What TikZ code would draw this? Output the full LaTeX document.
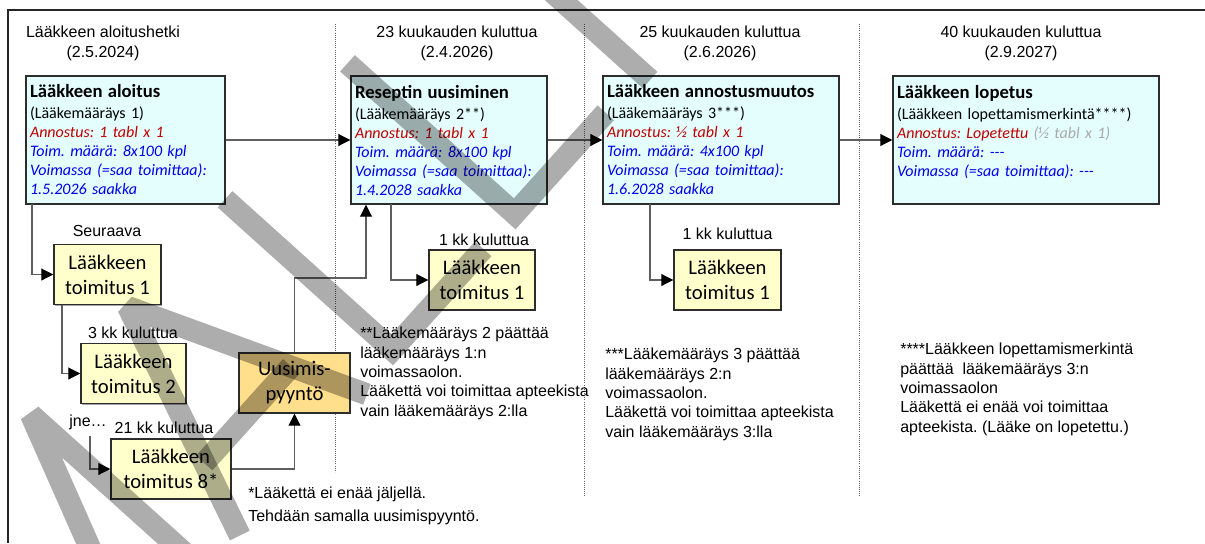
\documentclass[tikz,border=0pt]{standalone}
\usepackage{fontspec}
\setmainfont{Liberation Sans}
\newfontfamily\calfont{Carlito}
\usetikzlibrary{arrows.meta,shadows}
\definecolor{boxcyan}{RGB}{228,253,253}
\definecolor{boxyellow}{RGB}{255,255,204}
\definecolor{boxorange}{RGB}{255,222,140}
\definecolor{boxline}{RGB}{45,45,45}
\definecolor{dred}{RGB}{192,0,0}
\definecolor{dblue}{RGB}{0,0,235}
\definecolor{lgrey}{RGB}{170,170,170}
\definecolor{linegrey}{RGB}{95,95,95}
\begin{document}
\frenchspacing
\begin{tikzpicture}[x=0.75pt,y=-0.75pt,
  every node/.style={inner sep=0pt},
  shad/.style={drop shadow={shadow xshift=1.1pt,shadow yshift=-1.1pt,fill=black!35,opacity=1}},
  mainbox/.style={draw=boxline,line width=1.1pt,fill=boxcyan,shad,minimum height=96pt,
     inner xsep=3pt,align=left,font=\calfont\frenchspacing\fontsize{12}{14.25}\selectfont},
  delbox/.style={draw=boxline,line width=1.1pt,fill=boxyellow,shad,minimum height=45pt,
     align=center,font=\calfont\fontsize{15.5}{18.75}\selectfont},
  reqbox/.style={delbox,fill=boxorange},
  lbl/.style={font=\fontsize{12}{15}\selectfont,align=center},
  note/.style={font=\frenchspacing\fontsize{12}{14.5}\selectfont,align=left,anchor=north west},
  conn/.style={draw=linegrey,line width=0.8pt,-{Triangle[length=9pt,width=9pt,color=black]}},
  sep/.style={draw=black!60,line width=0.6pt,densely dotted},
  wmark/.style={draw=black,draw opacity=0.32,line width=16.5pt,line cap=butt},
]
\useasboundingbox (0,0) rectangle (1205,543);
\fill[white] (0,0) rectangle (1205,543);
% frame
\draw[black!85,line width=1.1pt] (8,543) -- (8,10) -- (1205,10);
% separators
\draw[sep] (335,24) -- (335,472);
\draw[sep] (584,24) -- (584,497);
\draw[sep] (859,24) -- (859,497);
% headers
\node[lbl,anchor=north] (h1) at (103,26) {Lääkkeen aloitushetki\\(2.5.2024)};
\node[lbl,anchor=north] (h2) at (457,26) {23 kuukauden kuluttua\\(2.4.2026)};
\node[lbl,anchor=north] (h3) at (720,26) {25 kuukauden kuluttua\\(2.6.2026)};
\node[lbl,anchor=north] (h4) at (1021,26) {40 kuukauden kuluttua\\(2.9.2027)};
% main boxes
\node[mainbox,minimum width=199*0.75pt,text width=143.25pt] (A) at (125.5,140)
 {{\bfseries\fontsize{14}{14.25}\selectfont Lääkkeen aloitus}\\[1.5pt]
  (Lääkemääräys 1)\\
  {\itshape\color{dred}Annostus: 1 tabl x 1}\\
  {\itshape\color{dblue}Toim. määrä: 8x100 kpl}\\
  {\itshape\color{dblue}Voimassa (=saa toimittaa):}\\
  {\itshape\color{dblue}1.5.2026 saakka}};
\node[mainbox,minimum width=196*0.75pt,text width=141pt] (B) at (449,140)
 {{\bfseries\fontsize{14}{14.25}\selectfont Reseptin uusiminen}\\[1.5pt]
  (Lääkemääräys 2**)\\
  {\itshape\color{dred}Annostus: 1 tabl x 1}\\
  {\itshape\color{dblue}Toim. määrä: 8x100 kpl}\\
  {\itshape\color{dblue}Voimassa (=saa toimittaa):}\\
  {\itshape\color{dblue}1.4.2028 saakka}};
\node[mainbox,minimum width=236*0.75pt,text width=171pt] (C) at (721,140)
 {{\bfseries\fontsize{14}{14.25}\selectfont Lääkkeen annostusmuutos}\\[1.5pt]
  (Lääkemääräys 3***)\\
  {\itshape\color{dred}Annostus: ½ tabl x 1}\\
  {\itshape\color{dblue}Toim. määrä: 4x100 kpl}\\
  {\itshape\color{dblue}Voimassa (=saa toimittaa):}\\
  {\itshape\color{dblue}1.6.2028 saakka}};
\node[mainbox,minimum width=266*0.75pt,text width=193.5pt] (D) at (1026,140)
 {{\bfseries\fontsize{14}{14.25}\selectfont Lääkkeen lopetus}\\[1.5pt]
  (Lääkkeen lopettamismerkintä****)\\
  {\itshape\color{dred}Annostus: Lopetettu {\color{lgrey}(½ tabl x 1)}}\\
  {\itshape\color{dblue}Toim. määrä: ---}\\
  {\itshape\color{dblue}Voimassa (=saa toimittaa): ---}\\
  \mbox{}};
% delivery boxes
\node[delbox,minimum width=107*0.75pt] (T1) at (107.5,274.5) {Lääkkeen\\toimitus 1};
\node[delbox,minimum width=105*0.75pt] (T2) at (133.5,373.5) {Lääkkeen\\toimitus 2};
\node[delbox,minimum width=120*0.75pt] (T8) at (171,469) {Lääkkeen\\toimitus 8*};
\node[reqbox,minimum width=111*0.75pt] (U) at (294.5,383) {Uusimis-\\pyyntö};
\node[delbox,minimum width=106*0.75pt] (T1b) at (482,280) {Lääkkeen\\toimitus 1};
\node[delbox,minimum width=107*0.75pt] (T1c) at (727.5,280) {Lääkkeen\\toimitus 1};
% labels
\node[lbl] (l1) at (107,231) {Seuraava};
\node[lbl] (l2) at (133,333) {3 kk kuluttua};
\node[lbl] (l3) at (164,428) {21 kk kuluttua};
\node[lbl] (l4) at (88,422) {jne…};
\node[lbl] (l5) at (484,240) {1 kk kuluttua};
\node[lbl] (l6) at (727.5,234) {1 kk kuluttua};
% notes
\node[note,font=\frenchspacing\fontsize{12}{17}\selectfont] (n1) at (248,487) {*Lääkettä ei enää jäljellä.\\Tehdään samalla uusimispyyntö.};
\node[note] (n2) at (360,327) {**Lääkemääräys 2 päättää\\lääkemääräys 1:n\\voimassaolon.\\Lääkettä voi toimittaa apteekista\\vain lääkemääräys 2:lla};
\node[note] (n3) at (605,348) {***Lääkemääräys 3 päättää\\lääkemääräys 2:n\\voimassaolon.\\Lääkettä voi toimittaa apteekista\\vain lääkemääräys 3:lla};
\node[note] (n4) at (900,343) {****Lääkkeen lopettamismerkintä\\päättää\ \ lääkemääräys 3:n\\voimassaolon\\Lääkettä ei enää voi toimittaa\\apteekista. (Lääke on lopetettu.)};
% connectors
\draw[conn] (A) -- (B);
\draw[conn] (B) -- (C);
\draw[conn] (C) -- (D);
\coordinate (a1) at (32,204);
\draw[conn] (a1) |- (T1.west);
\coordinate (t1) at (62,305);
\draw[conn] (t1) |- (T2.west);
\coordinate (j1) at (90,436);
\draw[conn] (j1) |- (T8.west);
\draw[conn] (T8.east) -| (U.south);
\coordinate (u1) at (366,278);
\draw[conn] (U.north) |- (u1) -- (u1 |- B.south);
\coordinate (b1) at (391,204);
\draw[conn] (b1) |- (T1b.west);
\coordinate (c1) at (650,204);
\draw[conn] (c1) |- (T1c.west);
% watermark "MALLI" drawn as strokes
\begin{scope}[shift={(650,80)},rotate=48,yscale=-1]
  \draw[wmark,line join=bevel] (-867,0) -- (-867,236) -- (-765,8) -- (-663,236) -- (-663,0);
  \draw[wmark,line join=bevel] (-613,0) -- (-518,236) -- (-423,0);
  \draw[wmark] (-583,75) -- (-453,75);
  \draw[wmark,line join=miter] (-373,236) -- (-373,11) -- (-237,11);
  \draw[wmark,line join=miter] (-190,236) -- (-190,11) -- (-54,11);
  \draw[wmark] (0,0) -- (0,236);
\end{scope}
\end{tikzpicture}
\end{document}
